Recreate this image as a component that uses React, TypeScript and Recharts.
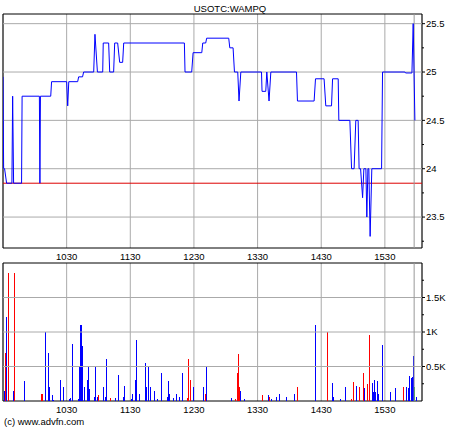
import React from "react";
import {
  Bar,
  CartesianGrid,
  ComposedChart,
  Line,
  ReferenceArea,
  ReferenceLine,
  XAxis,
  YAxis,
} from "recharts";

const font = "'Liberation Sans', Arial, sans-serif";
const ink = "#000";
const gridColor = "#aaaaaa";

// minutes since 09:30
const hourTicks = [60, 120, 180, 240, 300, 360];
const priceMajor = [23.5, 24, 24.5, 25, 25.5];
const priceMinor = [23.25, 23.5, 23.75, 24, 24.25, 24.5, 24.75, 25, 25.25, 25.5];
const volMajor = [500, 1000, 1500];
const volMinor = [250, 500, 750, 1000, 1250, 1500, 1750];
const prevClose = 23.85;
const lastTrade = 387.6;

// [minute, price] vertices of the trade line
const priceSteps: [number, number][] = [
  [0, 24.95], [0.6, 24.0], [1.5, 24.0], [3.4, 23.85], [8.4, 23.85], [9.1, 24.75], [10, 23.85],
  [17.5, 23.85], [18, 24.75], [34.3, 24.75], [34.8, 23.85], [35.3, 24.75], [45, 24.75], [45.8, 24.9],
  [60, 24.9], [61, 24.65], [62, 24.9], [70.4, 24.9], [71.3, 24.95], [75, 24.95], [76, 25.0],
  [85.5, 25.0], [86.7, 25.39], [89, 25.0], [94, 25.0], [94.5, 25.3], [99.6, 25.3], [100.6, 25.0],
  [104.3, 25.0], [105.3, 25.3], [108.1, 25.3], [110, 25.1], [112.8, 25.1], [113.8, 25.3],
  [171, 25.3], [171.6, 25.0], [177.9, 25.0], [179.2, 25.2], [187.4, 25.2], [188.3, 25.3],
  [191.1, 25.3], [192, 25.35], [212.8, 25.35], [213.8, 25.25], [216.9, 25.25], [218.2, 25.0],
  [221.3, 25.0], [222.5, 24.7], [224.2, 25.0], [243.7, 25.0], [244.2, 24.8], [247.7, 24.8],
  [248.7, 25.0], [250.8, 24.7], [252.5, 25.0], [276.7, 25.0], [277.6, 24.7], [293.3, 24.7],
  [294.6, 24.93], [302.7, 24.93], [304.3, 24.65], [309.7, 24.65], [310.7, 24.93], [316, 24.93],
  [316.6, 24.5], [327, 24.5], [328.6, 24.0], [331, 24.0], [332.6, 24.5], [334.8, 24.5],
  [335.7, 24.0], [337.1, 24.0], [339, 23.7], [340.2, 24.0], [342.1, 24.0], [343, 23.5],
  [344, 24.0], [344.9, 24.0], [346.1, 23.3], [347.7, 24.0], [356.9, 24.0], [357.8, 25.0],
  [378.9, 25.0], [379.5, 24.99], [385.5, 24.99], [386.7, 25.5], [388.3, 24.5],
];

// [minute, shares]
const buyTrades: [number, number][] = [
  [1, 140], [3, 1215], [10, 140], [20, 290], [40, 1005], [43, 700], [44, 205], [47, 85], [48, 20],
  [54, 300], [57, 200], [63, 35], [64, 45], [66, 820], [71, 25], [72, 510], [73, 1105], [74, 1105],
  [75, 790], [77, 200], [80, 305], [81, 505], [82, 170], [86, 60], [87, 495], [89, 60], [95, 200],
  [97, 55], [98, 610], [106, 45], [109, 375], [114, 55], [115, 220], [121, 35], [122, 100],
  [125, 305], [126, 890], [129, 100], [134, 550], [135, 200], [137, 505], [139, 200], [143, 140],
  [146, 35], [149, 405], [155, 55], [156, 290], [157, 100], [161, 40], [164, 100], [166, 55],
  [169, 405], [180, 200], [189, 200], [192, 505], [215, 45], [224, 140], [228, 25], [250, 85],
  [253, 25], [258, 55], [261, 100], [267, 55], [275, 100], [295, 1100], [311, 260], [312, 55],
  [318, 25], [323, 200], [333, 215], [341, 185], [348, 260], [349, 125], [350, 300], [351, 125],
  [353, 290], [354, 100], [358, 815], [365, 125], [370, 185], [380, 200], [382, 185], [383, 360],
  [385, 330], [386, 345], [387, 655], [390, 55],
];
const sellTrades: [number, number][] = [
  [2, 700], [5, 1855], [11, 1855], [36, 100], [37, 100], [90, 85], [101, 40], [174, 40], [175, 610],
  [177, 300], [191, 100], [219, 25], [221, 405], [222, 685], [223, 200], [245, 85], [251, 55],
  [278, 200], [306, 1005], [329, 25], [330, 275], [336, 200], [340, 405], [344, 245], [346, 960],
  [378, 200],
];
const neutralTrades: [number, number][] = [[388, 200]];

const priceData = priceSteps.map(([m, p]) => ({ m, p }));
const volData = [
  ...buyTrades.map(([m, v]) => ({ m, v, c: "#0000ff" })),
  ...sellTrades.map(([m, v]) => ({ m, v, c: "#ff0000" })),
  ...neutralTrades.map(([m, v]) => ({ m, v, c: "#00c000" })),
].sort((a, b) => a.m - b.m);

function hhmm(m: number): string {
  const t = 9 * 60 + 30 + m;
  return `${Math.floor(t / 60)}${String(t % 60).padStart(2, "0")}`;
}

function fmtPrice(v: number): string {
  return String(v);
}

function fmtVol(v: number): string {
  return `${v / 1000}K`;
}

// right-hand ticks: long tick + label on majors, short tick on minors
function RightTick(props: any) {
  const { x, y, payload, major, format } = props;
  const v = payload.value;
  const isMajor = major.includes(v);
  const ax = x - 3;
  return (
    <g>
      <line x1={ax} x2={ax + (isMajor ? 3 : 2)} y1={y} y2={y} stroke={ink} />
      {isMajor && (
        <text x={ax + 4} y={y} dy="0.35em" fontSize={9.5} fontFamily={font} fill={ink}>
          {format(v)}
        </text>
      )}
    </g>
  );
}

// one-pixel solid volume stick, snapped to the pixel grid
function VolStick(props: any) {
  const { x, y, width, height, payload } = props;
  if (!height) return null;
  const cx = Math.round(x + width / 2 - 0.5);
  return <rect x={cx} y={y} width={1} height={height} fill={payload.c} shapeRendering="crispEdges" />;
}

const xTick = { fontSize: 9.5, fill: ink, fontFamily: font };

export default function App() {
  const pDomain: [number, number] = [23.18, 25.6];
  const vDomain: [number, number] = [0, 2000];
  return (
    <div style={{ position: "absolute", left: 0, top: 0, width: 460, height: 430, background: "#fff" }}>
      <div
        style={{
          position: "absolute",
          top: 3,
          left: 0,
          width: 460,
          textAlign: "center",
          fontFamily: font,
          fontSize: 9.5,
          lineHeight: "11px",
          color: ink,
        }}
      >
        USOTC:WAMPQ
      </div>

      <div style={{ position: "absolute", top: 0, left: 0 }}>
        <ComposedChart width={460} height={262} data={priceData} margin={{ top: 14, right: 0, left: 3, bottom: 0 }}>
          <CartesianGrid yAxisId="p" stroke={gridColor} horizontal={false} vertical />
          <XAxis
            dataKey="m"
            type="number"
            domain={[0, 395]}
            ticks={hourTicks}
            tickFormatter={hhmm}
            axisLine={false}
            tickLine={false}
            tickSize={3}
            tickMargin={2}
            height={14}
            tick={xTick}
            allowDataOverflow
          />
          <YAxis yAxisId="pl" orientation="left" mirror width={0} domain={pDomain} ticks={priceMinor} tick={false} tickSize={2} tickLine={{ stroke: ink }} axisLine={false} allowDataOverflow />
          <YAxis
            yAxisId="p"
            orientation="right"
            width={38}
            domain={pDomain}
            ticks={priceMinor}
            interval={0}
            tickSize={3}
            tickMargin={0}
            tickLine={false}
            axisLine={false}
            tick={<RightTick major={priceMajor} format={fmtPrice} />}
            allowDataOverflow
          />
          {priceMajor.map((v) => (
            <ReferenceLine key={v} yAxisId="p" y={v} stroke={gridColor} />
          ))}
          <ReferenceLine yAxisId="p" y={prevClose} stroke="#dd0000" />
          <ReferenceLine yAxisId="p" x={lastTrade} stroke="#999999" />
          <Line
            yAxisId="p"
            type="linear"
            dataKey="p"
            stroke="#0000ff"
            strokeWidth={1}
            dot={false}
            isAnimationActive={false}
          />
          <ReferenceArea yAxisId="p" x1={0} x2={395} y1={pDomain[0]} y2={pDomain[1]} fill="none" stroke={ink} strokeWidth={1} />
        </ComposedChart>
      </div>

      <div style={{ position: "absolute", top: 250, left: 0 }}>
        <ComposedChart width={460} height={165} data={volData} margin={{ top: 13, right: 0, left: 3, bottom: 0 }}>
          <CartesianGrid yAxisId="v" stroke={gridColor} horizontal={false} vertical />
          <XAxis
            dataKey="m"
            type="number"
            domain={[0, 395]}
            ticks={hourTicks}
            tickFormatter={hhmm}
            axisLine={false}
            tickLine={false}
            tickSize={3}
            tickMargin={2}
            height={14}
            tick={xTick}
            allowDataOverflow
          />
          <YAxis yAxisId="vl" orientation="left" mirror width={0} domain={vDomain} ticks={volMinor} tick={false} tickSize={2} tickLine={{ stroke: ink }} axisLine={false} allowDataOverflow />
          <YAxis
            yAxisId="v"
            orientation="right"
            width={38}
            domain={vDomain}
            ticks={volMinor}
            interval={0}
            tickSize={3}
            tickMargin={0}
            tickLine={false}
            axisLine={false}
            tick={<RightTick major={volMajor} format={fmtVol} />}
            allowDataOverflow
          />
          {volMajor.map((v) => (
            <ReferenceLine key={v} yAxisId="v" y={v} stroke={gridColor} />
          ))}
          <ReferenceLine yAxisId="v" x={lastTrade} stroke="#999999" />
          <Bar yAxisId="v" dataKey="v" barSize={1} shape={VolStick} isAnimationActive={false} />
          <ReferenceArea yAxisId="v" x1={0} x2={395} y1={0} y2={2000} fill="none" stroke={ink} strokeWidth={1} />
        </ComposedChart>
      </div>

      <div
        style={{
          position: "absolute",
          top: 416,
          left: 4,
          fontFamily: font,
          fontSize: 9.5,
          lineHeight: "11px",
          color: ink,
        }}
      >
        (c) www.advfn.com
      </div>
    </div>
  );
}
